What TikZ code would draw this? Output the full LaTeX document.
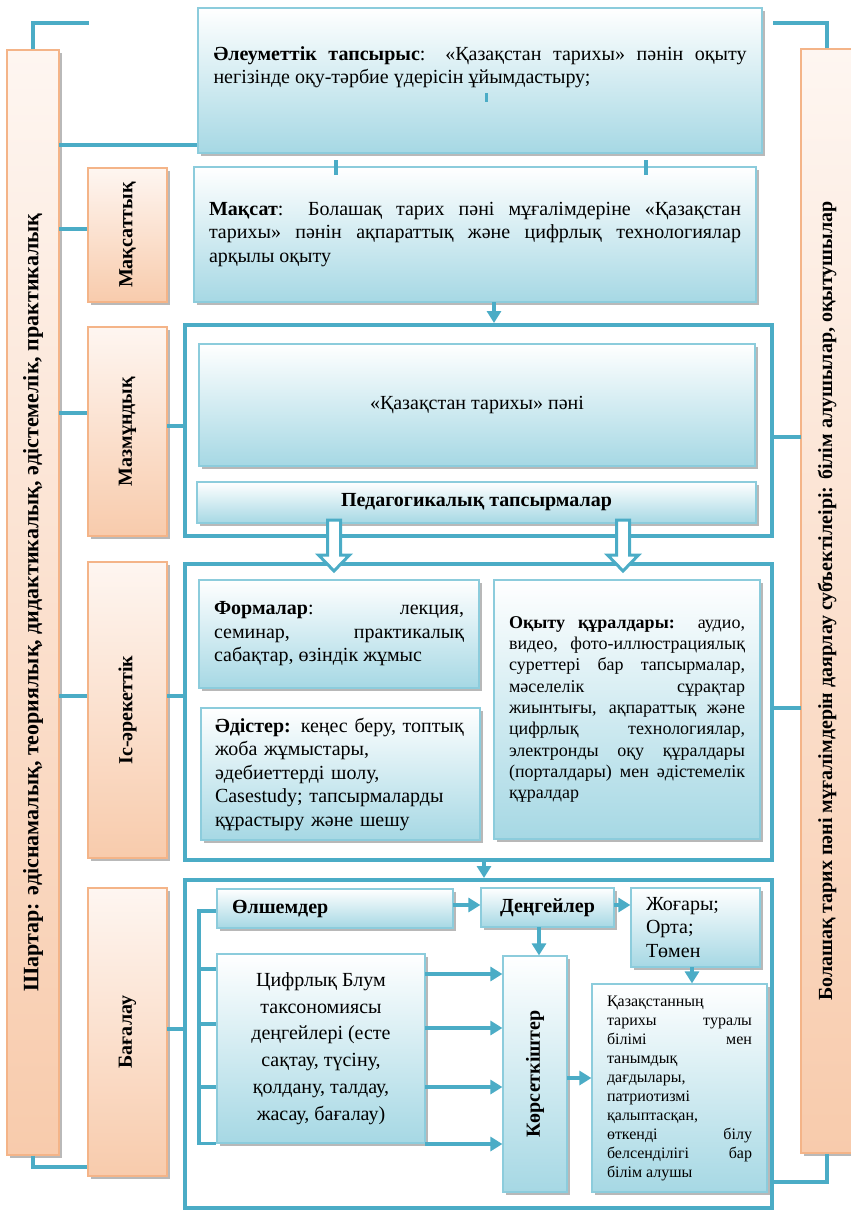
\documentclass[tikz,border=0pt]{standalone}
\usepackage{fontspec}
\setmainfont{Liberation Serif}
\usetikzlibrary{arrows.meta,shadows}
\tolerance=10000 \hbadness=10000 \hyphenpenalty=10000 \exhyphenpenalty=10000

\definecolor{linec}{RGB}{75,172,198}
\definecolor{boxedge}{RGB}{140,204,220}
\definecolor{boxlow}{RGB}{166,216,228}
\definecolor{peachtop}{RGB}{254,246,241}
\definecolor{peachlow}{RGB}{248,203,172}
\definecolor{peachedge}{RGB}{244,180,136}

\tikzset{
  bluebox/.style={draw=boxedge, line width=1.2pt, top color=white, bottom color=boxlow, inner sep=0pt,
    drop shadow={shadow xshift=2.5pt, shadow yshift=-2.5pt, fill=black!55, opacity=.5}},
  peachbox/.style={draw=peachedge, line width=1.5pt, top color=peachtop, bottom color=peachlow, inner sep=0pt,
    drop shadow={shadow xshift=2.5pt, shadow yshift=-2.5pt, fill=black!55, opacity=.5}},
  areaframe/.style={draw=linec, line width=4pt, fill=white, inner sep=0pt},
  conn/.style={draw=linec, line width=3.5pt},
  arr/.style={draw=linec, line width=3.5pt, -{Triangle[length=12pt, width=14pt]}},
  hollow/.style={draw=linec, line width=3pt, fill=white},
  txt/.style={font=\fontsize{20}{23.5}\selectfont},
  sidetxt/.style={font=\fontsize{20}{24}\selectfont\bfseries},
}

\begin{document}
\begin{tikzpicture}[x=1pt, y=-1pt]
\useasboundingbox (0,0) rectangle (851,1210);

% side bars
\node[peachbox, font=\fontsize{22}{26}\selectfont\bfseries, minimum width=52pt, minimum height=1105pt] (lbar) at (33,602.5)
  {\rotatebox{90}{Шартар: әдіснамалық, теориялық, дидактикалық, әдістемелік, практикалық}};
\node[peachbox, sidetxt, minimum width=52pt, minimum height=1104pt] (rbar) at (827,601)
  {\rotatebox{90}{Болашақ тарих пәні мұғалімдерін даярлау субъектілеірі: білім алушылар, оқытушылар}};

% stage labels
\node[peachbox, sidetxt, minimum width=79pt, minimum height=134pt] (goalc) at (127.5,235) {\rotatebox{90}{Мақсаттық}};
\node[peachbox, sidetxt, minimum width=79pt, minimum height=209pt] (contc) at (127.5,431.5) {\rotatebox{90}{Мазмұндық}};
\node[peachbox, sidetxt, minimum width=79pt, minimum height=296pt] (actc) at (127.5,710) {\rotatebox{90}{Іс-әрекеттік}};
\node[peachbox, sidetxt, minimum width=79pt, minimum height=288pt] (evalc) at (127.5,1032) {\rotatebox{90}{Бағалау}};

% frames
\node[areaframe, minimum width=587pt, minimum height=211pt] (cont) at (478.5,430.5) {};
\node[areaframe, minimum width=587pt, minimum height=296pt] (act) at (478.5,712) {};
\node[areaframe, minimum width=587pt, minimum height=328pt] (eval) at (478.5,1044) {};

% top part
\node[bluebox, txt, minimum width=564pt, minimum height=145pt, text width=533pt, align=justify] (soc) at (480,80.5)
  {\textbf{Әлеуметтік тапсырыс}: «Қазақстан тарихы» пәнін оқыту\linebreak
   негізінде оқу-тәрбие үдерісін ұйымдастыру;\\ \strut};
\node[bluebox, txt, minimum width=562pt, minimum height=135pt, text width=532pt, align=justify] (goal) at (475,234.5)
  {\textbf{Мақсат}: Болашақ тарих пәні мұғалімдеріне «Қазақстан\linebreak
   тарихы» пәнін ақпараттық және цифрлық технологиялар\linebreak
   арқылы оқыту};

% content
\node[bluebox, txt, minimum width=556pt, minimum height=122pt] (subj) at (477,405) {«Қазақстан тарихы» пәні};
\node[bluebox, txt, minimum width=559pt, minimum height=41pt] (ped) at (476.5,502.5) {\textbf{Педагогикалық тапсырмалар}};

% activity
\node[bluebox, txt, minimum width=280pt, minimum height=108pt, text width=250pt, align=justify] (forms) at (339,634)
  {\textbf{Формалар}: лекция,\linebreak семинар, практикалық\linebreak сабақтар, өзіндік жұмыс};
\node[bluebox, txt, minimum width=279pt, minimum height=132pt, text width=251pt, align=left] (meth) at (340.5,774)
  {\textbf{Әдістер:} кеңес беру, топтық\\ жоба жұмыстары,\\ әдебиеттерді шолу,\\ Casestudy; тапсырмаларды\\ құрастыру және шешу};
\node[bluebox, font=\fontsize{18}{21.3}\selectfont, minimum width=266pt, minimum height=259pt, text width=236pt, align=justify] (tools) at (627,709.5)
  {\textbf{Оқыту құралдары:} аудио,\linebreak видео, фото-иллюстрациялық\linebreak
   суреттері бар тапсырмалар,\linebreak мәселелік сұрақтар\linebreak
   жиынтығы, ақпараттық және\linebreak цифрлық технологиялар,\linebreak
   электронды оқу құралдары\linebreak (порталдары) мен әдістемелік\linebreak құралдар};

% assessment
\node[bluebox, txt, minimum width=236pt, minimum height=39pt, text width=206pt, align=left] (crit) at (335,908.5) {\textbf{Өлшемдер}};
\node[bluebox, txt, minimum width=133pt, minimum height=39pt] (lev) at (547.5,907.5) {\textbf{Деңгейлер}};
\node[bluebox, txt, minimum width=129pt, minimum height=79pt, text width=99pt, align=left] (high) at (695.5,927.5)
  {Жоғары;\\ Орта;\\ Төмен};
\node[bluebox, font=\fontsize{20}{26.7}\selectfont, minimum width=208pt, minimum height=189pt, align=center] (bloom) at (321,1048.5)
  {Цифрлық Блум\\ таксономиясы\\ деңгейлері (есте\\ сақтау, түсіну,\\ қолдану, талдау,\\ жасау, бағалау)};
\node[bluebox, txt, minimum width=64pt, minimum height=236pt] (ind) at (535,1074) {\rotatebox{90}{\textbf{Көрсеткіштер}}};
\node[bluebox, font=\fontsize{16}{19}\selectfont, minimum width=175pt, minimum height=208pt, text width=145pt, align=justify] (res) at (679.5,1088)
  {Қазақстанның\newline тарихы туралы\linebreak білімі мен\linebreak танымдық\newline дағдылары,\newline
   патриотизмі\newline қалыптасқан,\newline өткенді білу\linebreak белсенділігі бар\linebreak білім алушы};

% side bar links
\coordinate (ltop) at (89,23);
\coordinate (rtop) at (773,23);
\draw[conn] (lbar.north) |- (ltop);
\draw[conn] (rbar.north) |- (rtop);
\draw[conn] (lbar.south) |- ([yshift=-135pt]evalc.west);
\draw[conn] (rbar.south) |- ([yshift=-138pt]eval.east);
\coordinate (l1) at (59,145);
\draw[conn] (l1) -- (l1 -| soc.west);
\foreach \n/\y in {goalc/229, contc/413, actc/696} {
  \coordinate (p) at (59,\y);
  \draw[conn] (p) -- (p -| \n.west);
}
\foreach \m/\y in {cont/426, act/696, eval/1029} {
  \coordinate (p) at (167,\y);
  \draw[conn] (p) -- (p -| \m.west);
}
\foreach \m/\y in {cont/437, act/708} {
  \coordinate (p) at (801,\y);
  \draw[conn] (p) -- (p -| \m.east);
}

% marks under the top box
\foreach \x in {336,646} {
  \coordinate (p) at (\x,160);
  \draw[conn] (p) -- ++(0,15);
}
\draw[linec, line width=3pt] ([xshift=6pt, yshift=-12.5pt]soc.center) -- ++(0,9);

% flow arrows
\coordinate (g1) at (494,302);
\draw[arr] (g1) -- (g1 |- cont.north);
\foreach \hx in {334,623}
  \draw[hollow] (\hx,520) ++(-6.5,0) -- ++(0,35) -- ++(-9,0) -- ++(15.5,16) -- ++(15.5,-16) -- ++(-9,0) -- ++(0,-35) -- cycle;
\coordinate (a1) at (484,860);
\draw[arr] (a1) -- (a1 |- eval.north);

% assessment links
\coordinate (b1) at (199,911);
\draw[conn] (crit.west |- b1) -- (b1) |- (bloom.south west);
\foreach \y in {969,1024,1087} {
  \coordinate (p) at (199,\y);
  \draw[conn] (p) -- (p -| bloom.west);
}
\foreach \y in {974,1028,1087,1144} {
  \coordinate (p) at (425,\y);
  \draw[arr] (p) -- (p -| ind.west);
}
\coordinate (c1) at (453,905);
\draw[arr] (c1) -- (c1 -| lev.west);
\coordinate (c2) at (614,905);
\draw[arr] (c2) -- (c2 -| high.west);
\coordinate (c3) at (539,927);
\draw[arr] (c3) -- (c3 |- ind.north);
\coordinate (c4) at (692,967);
\draw[arr] (c4) -- (c4 |- res.north);
\coordinate (c5) at (567,1078);
\draw[arr] (c5) -- (c5 -| res.west);
\end{tikzpicture}
\end{document}
